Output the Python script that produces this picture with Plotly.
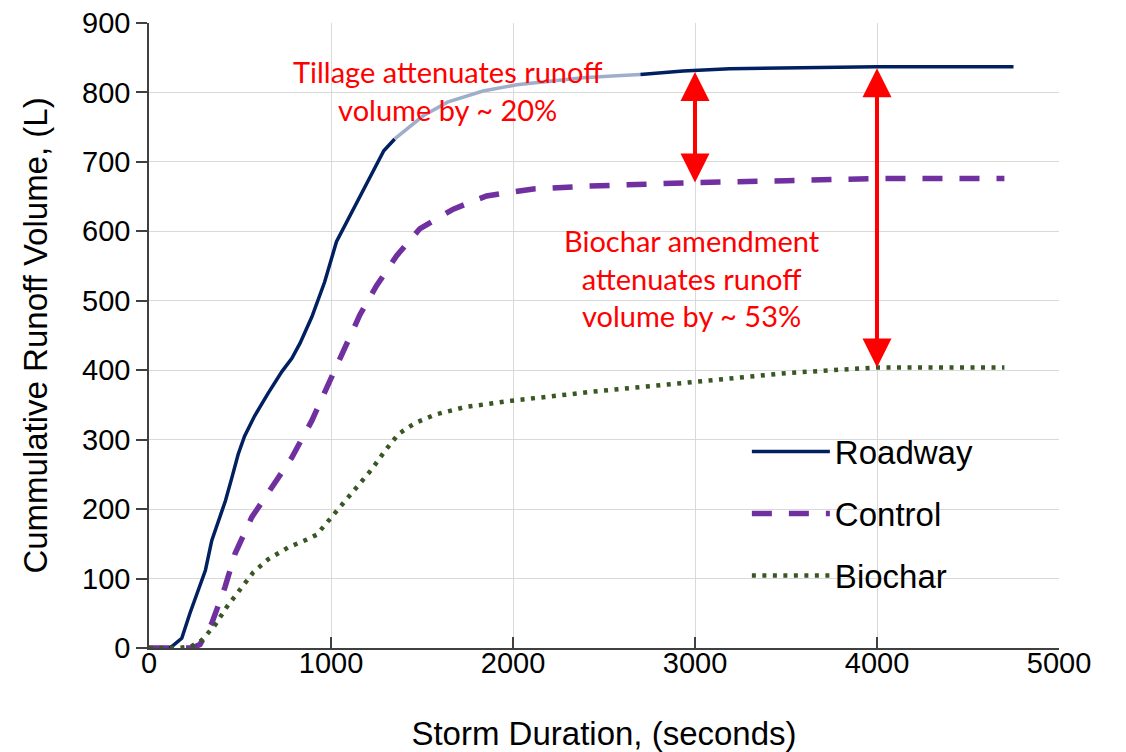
import numpy as np
import plotly.graph_objects as go

# ---- data ----
roadway_t = [0, 100, 125, 180, 225, 270, 310, 345, 380, 420, 455, 490, 525, 580, 655, 730, 785,
             830, 895, 930, 965, 1030, 1105, 1180, 1235, 1290, 1350, 1415, 1505, 1640, 1835,
             2020, 2200, 2385, 2570, 2700, 2935, 3190, 3450, 3720, 4000, 4750]
roadway_v = [0, 0, 2, 14, 50, 83, 112, 155, 183, 212, 245, 279, 305, 334, 367, 398, 417,
             439, 477, 503, 527, 585, 623, 661, 690, 716, 733, 747, 766, 786, 802,
             811, 816, 821, 824, 826, 831, 834, 835, 837, 837, 837]

control_t = [0, 235, 280, 344, 418, 473, 564, 674, 784, 894, 976, 1068, 1159, 1251, 1361,
             1489, 1672, 1855, 2112, 2400, 2700, 2975, 3500, 4000, 4700]
control_v = [0, 0, 5, 35, 88, 136, 188, 231, 274, 327, 374, 427, 480, 522, 565,
             604, 632, 651, 661, 665, 668, 670, 673, 676, 676]

biochar_t = [0, 160, 230, 289, 363, 427, 500, 573, 656, 766, 866, 921, 995, 1077, 1150,
             1223, 1297, 1370, 1462, 1571, 1736, 1990, 2470, 3010, 3510, 4000, 4700]
biochar_v = [0, 0, 2, 11, 33, 59, 84, 109, 128, 145, 156, 163, 186, 212, 236,
             257, 284, 308, 324, 336, 347, 356, 370, 383, 396, 404, 404]

series_names = ["Roadway", "Control", "Biochar"]
x_ticks = [0, 1000, 2000, 3000, 4000, 5000]
y_ticks = [0, 100, 200, 300, 400, 500, 600, 700, 800, 900]

# section of the Roadway curve shown faded behind the text box
faded_start, faded_end = 1350, 2700

annot_tillage = "Tillage attenuates runoff<br>volume by ~ 20%"
annot_biochar = "Biochar amendment<br>attenuates runoff<br>volume by ~ 53%"
arrow1_t, arrow2_t = 3000, 4000

# ---- figure ----
NAVY = "#002060"
NAVY_FADED = "#9fafca"
PURPLE = "#7030A0"
GREEN = "#385723"
AXIS = "#404040"
GRID = "#d9d9d9"

rt = np.array(roadway_t)
rv = np.array(roadway_v)
m1 = rt <= faded_start
m2 = (rt >= faded_start) & (rt <= faded_end)
m3 = rt >= faded_end

fig = go.Figure()
fig.add_trace(go.Scatter(x=rt[m1], y=rv[m1], mode="lines", name=series_names[0],
                         legendgroup="r", line=dict(color=NAVY, width=3.5)))
fig.add_trace(go.Scatter(x=rt[m2], y=rv[m2], mode="lines", name=series_names[0],
                         legendgroup="r", showlegend=False,
                         line=dict(color=NAVY_FADED, width=3.5)))
fig.add_trace(go.Scatter(x=rt[m3], y=rv[m3], mode="lines", name=series_names[0],
                         legendgroup="r", showlegend=False,
                         line=dict(color=NAVY, width=3.5)))
fig.add_trace(go.Scatter(x=control_t, y=control_v, mode="lines", name=series_names[1],
                         legendgroup="c",
                         line=dict(color=PURPLE, width=5.5, dash="20px,17px")))
fig.add_trace(go.Scatter(x=biochar_t, y=biochar_v, mode="lines", name=series_names[2],
                         legendgroup="b",
                         line=dict(color=GREEN, width=4.5, dash="4px,6.5px")))

tick_font = dict(family="Liberation Sans, Arial", size=29, color="black")
title_font = dict(family="Liberation Sans, Arial", size=33, color="black")

fig.update_layout(
    width=1110, height=744,
    margin=dict(l=141, r=59, t=15, b=104),
    paper_bgcolor="white", plot_bgcolor="white",
    showlegend=True,
    legend=dict(x=0.657, y=0.359, xanchor="left", yanchor="top",
                font=dict(family="Liberation Sans, Arial", size=33, color="black"),
                bgcolor="rgba(255,255,255,0)", tracegroupgap=16, itemwidth=78),
    xaxis=dict(range=[0, 5000], tickvals=x_ticks, ticks="inside", ticklen=11,
               tickwidth=1.5, tickcolor=AXIS, showline=True, linecolor=AXIS, linewidth=1.5,
               showgrid=True, gridcolor=GRID, gridwidth=1.3, zeroline=False,
               tickfont=tick_font, automargin=False, ticklabelstandoff=-12,
               ticklabeloverflow="allow",
               title=dict(text="Storm Duration, (seconds)", font=title_font, standoff=50)),
    yaxis=dict(range=[0, 900], tickvals=y_ticks, ticks="outside", ticklen=11,
               tickwidth=1.5, tickcolor=AXIS, showline=True, linecolor=AXIS, linewidth=1.5,
               showgrid=True, gridcolor=GRID, gridwidth=1.3, zeroline=False,
               tickfont=tick_font, automargin=False, ticklabeloverflow="allow",
               title=dict(text="Cummulative Runoff Volume, (L)", font=title_font, standoff=25)),
    xaxis2=dict(overlaying="x", anchor="y", side="bottom", range=[0, 5000], tickvals=x_ticks,
                ticks="outside", ticklen=11, tickwidth=1.5, tickcolor=AXIS, automargin=False,
                showticklabels=False, showgrid=False, zeroline=False, showline=False),
    yaxis2=dict(overlaying="y", anchor="x", side="left", range=[0, 900], tickvals=y_ticks,
                ticks="inside", ticklen=11, tickwidth=1.5, tickcolor=AXIS, automargin=False,
                showticklabels=False, showgrid=False, zeroline=False, showline=False),
)

ann_font = dict(family="Lato, Noto Sans", size=29, color="#ff0000")
fig.add_annotation(x=1640, y=803, xref="x", yref="y", text=annot_tillage, showarrow=False,
                   font=ann_font, align="center")
fig.add_annotation(x=2985, y=533, xref="x", yref="y", text=annot_biochar, showarrow=False,
                   font=ann_font, align="center")

r1 = float(np.interp(arrow1_t, roadway_t, roadway_v))
c1 = float(np.interp(arrow1_t, control_t, control_v))
r2 = float(np.interp(arrow2_t, roadway_t, roadway_v))
b2 = float(np.interp(arrow2_t, biochar_t, biochar_v))
for xa, ytop, ybot in [(arrow1_t, r1, c1), (arrow2_t, r2, b2)]:
    fig.add_annotation(x=xa, y=ybot, ax=xa, ay=ytop, xref="x", yref="y", axref="x", ayref="y",
                       text="", showarrow=True, arrowside="end+start", arrowhead=2,
                       startarrowhead=2, arrowsize=1.45, startarrowsize=1.45, arrowwidth=4,
                       arrowcolor="#ff0000", standoff=0, startstandoff=0)

fig.write_html("out.html")
